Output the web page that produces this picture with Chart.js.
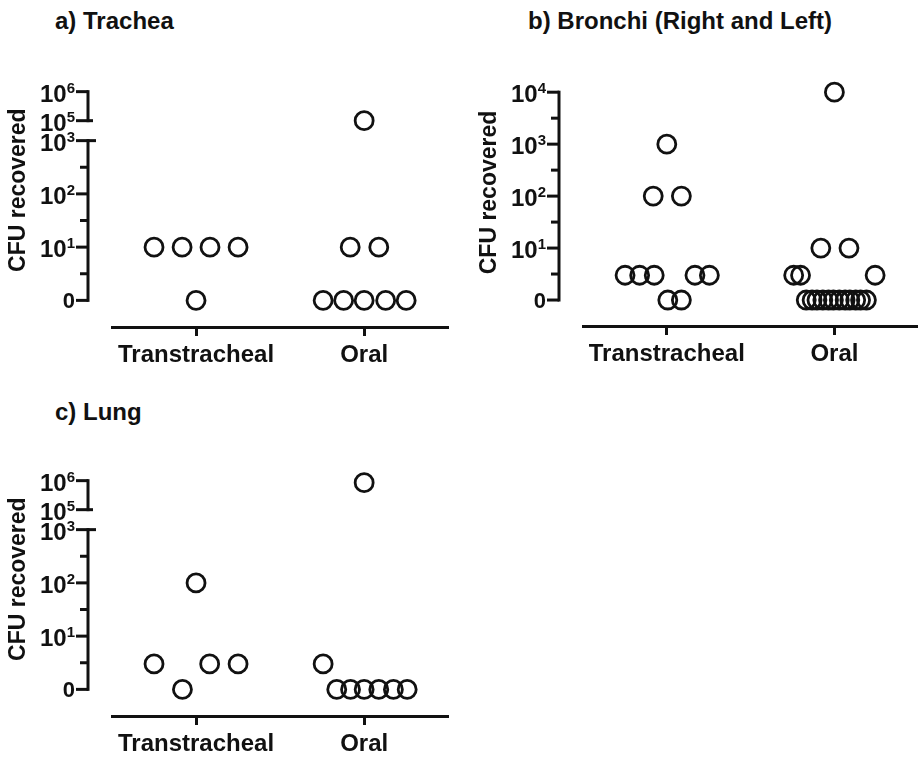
<!DOCTYPE html>
<html>
<head>
<meta charset="utf-8">
<script src="https://cdn.jsdelivr.net/npm/chart.js@4.4.1/dist/chart.umd.min.js"></script>
<style>
html, body { margin: 0; padding: 0; background: #fff; overflow: hidden; width: 918px; height: 759px; }
.panel { position: absolute; }
.ttl { position: absolute; font: bold 24px "Liberation Sans", Arial, sans-serif; line-height: 24px; color: #111; white-space: nowrap; }
</style>
</head>
<body>
<div class="ttl" style="left:55px;top:9px">a) Trachea</div>
<div class="ttl" style="left:528px;top:9px">b) Bronchi (Right and Left)</div>
<div class="ttl" style="left:55px;top:400px">c) Lung</div>
<div class="panel" style="left:0;top:0;width:460px;height:380px"><canvas id="trachea"></canvas></div>
<div class="panel" style="left:460px;top:0;width:470px;height:380px"><canvas id="bronchi"></canvas></div>
<div class="panel" style="left:0;top:389px;width:460px;height:372px"><canvas id="lung"></canvas></div>
<script>
const groups = ['Transtracheal', 'Oral']

// CFU recovered per animal (0 = nothing recovered)
const tracheaTrans = [10, 10, 10, 10, 0]
const tracheaOral = [100000, 10, 10, 0, 0, 0, 0, 0]
const bronchiTrans = [1000, 100, 100, 3, 3, 3, 3, 3, 0, 0]
const bronchiOral = [10000, 10, 10, 3, 3, 3, 0, 0, 0, 0, 0, 0, 0, 0, 0, 0, 0, 0]
const lungTrans = [3, 0, 100, 3, 3]
const lungOral = [850000, 3, 0, 0, 0, 0, 0, 0]

// sideways scatter of each point around its column (in column units)
const tracheaTransJit = [-0.25, -0.083, 0.083, 0.25, 0]
const tracheaOralJit = [0, -0.083, 0.087, -0.244, -0.122, 0, 0.128, 0.25]
const bronchiTransJit = [0, -0.081, 0.087, -0.249, -0.162, -0.075, 0.168, 0.254, 0.006, 0.087]
const bronchiOralJit = [0, -0.081, 0.087, -0.243, -0.202, 0.243,
  -0.168, -0.133, -0.104, -0.069, -0.035, -0.006, 0.029, 0.064, 0.092, 0.127, 0.156, 0.191]
const lungTransJit = [-0.25, -0.081, 0, 0.081, 0.25]
const lungOralJit = [0, -0.244, -0.163, -0.081, 0, 0.087, 0.174, 0.256]

// y tick labels as powers of ten, "0" sits where 10^0 would be
const brokenTicks = [0, 1, 2, 3, 5, 6]
const brokenMinor = [0.5, 1.5, 2.5]
const bronchiTicks = [0, 1, 2, 3, 4]
const bronchiMinor = [0.5, 1.5, 2.5, 3.5]

const INK = '#111'
const FONT = '"Liberation Sans", Arial, sans-serif'

// log axis; trachea and lung have a cut between 10^3 and 10^5
const GAP = 0.375, UPPER = 0.545
function toAxis(exp, broken) {
  if (!broken || exp <= 3) return exp
  return 3 + GAP + (exp - 5) * UPPER
}
const expOf = v => v <= 1 ? 0 : Math.log10(v)

function points(vals, jit, col, broken) {
  return vals.map((v, i) => ({ x: col + jit[i], y: toAxis(expOf(v), broken) }))
}

const logAxis = {
  id: 'logAxis',
  afterDraw(chart, args, o) {
    const { ctx, chartArea, scales: { y } } = chart
    const ax = chartArea.left - 24
    const py = e => y.getPixelForValue(toAxis(e, o.broken))
    ctx.save()
    ctx.strokeStyle = INK
    ctx.fillStyle = INK
    ctx.lineWidth = 3
    ctx.lineCap = 'square'
    const segs = o.broken ? [[0, 3], [5, 6]] : [[0, 4]]
    segs.forEach(([a, b]) => {
      ctx.beginPath()
      ctx.moveTo(ax, py(a))
      ctx.lineTo(ax, py(b))
      ctx.stroke()
    })
    ctx.lineCap = 'butt'
    o.ticks.forEach(e => {
      const p = py(e)
      let right = ax
      if (o.broken && e === 3) right = ax + 8
      if (o.broken && e === 5) right = ax + 5
      ctx.beginPath()
      ctx.moveTo(ax - 12, p)
      ctx.lineTo(right, p)
      ctx.stroke()
      const lx = ax - 13
      ctx.textAlign = 'right'
      ctx.textBaseline = 'alphabetic'
      if (e === 0) {
        ctx.font = 'bold 22px ' + FONT
        ctx.fillText('0', lx, p + 8)
      } else {
        ctx.font = 'bold 15px ' + FONT
        const sup = String(e)
        const w = ctx.measureText(sup).width
        ctx.fillText(sup, lx, p + 1)
        ctx.font = 'bold 24px ' + FONT
        ctx.fillText('10', lx - w, p + 10)
      }
    })
    o.minor.forEach(e => {
      const p = py(e)
      ctx.beginPath()
      ctx.moveTo(ax - 8, p)
      ctx.lineTo(ax, p)
      ctx.stroke()
    })
    // axis title
    ctx.translate(ax - 69.5, y.getPixelForValue(2.07))
    ctx.rotate(-Math.PI / 2)
    ctx.textAlign = 'center'
    ctx.textBaseline = 'middle'
    ctx.font = 'bold 23px ' + FONT
    ctx.fillText('CFU recovered', 0, 0)
    ctx.restore()
  }
}

function makeChart(id, trans, transJit, oral, oralJit, broken, pad, ymax) {
  const ds = (data) => ({
    data,
    pointRadius: 9,
    pointHoverRadius: 9,
    borderWidth: 2.8,
    borderColor: INK,
    backgroundColor: 'rgba(0,0,0,0)',
    showLine: false,
    clip: false
  })
  return new Chart(document.getElementById(id), {
    type: 'scatter',
    data: {
      datasets: [
        ds(points(trans, transJit, 0, broken)),
        ds(points(oral, oralJit, 1, broken))
      ]
    },
    plugins: [logAxis],
    options: {
      responsive: true,
      maintainAspectRatio: false,
      animation: false,
      layout: { padding: pad },
      plugins: {
        legend: { display: false },
        tooltip: { enabled: false },
        logAxis: {
          broken,
          ticks: broken ? brokenTicks : bronchiTicks,
          minor: broken ? brokenMinor : bronchiMinor
        }
      },
      scales: {
        y: { type: 'linear', display: false, min: -0.5, max: ymax },
        x: {
          type: 'linear',
          min: -0.5,
          max: 1.5,
          afterBuildTicks: s => { s.ticks = [{ value: 0 }, { value: 1 }] },
          afterFit: s => { s.height = 44 },
          border: { display: true, width: 3, color: INK },
          grid: { drawOnChartArea: false, tickLength: 9, tickWidth: 3, tickColor: INK, color: INK },
          ticks: {
            autoSkip: false,
            maxRotation: 0,
            padding: 5,
            color: INK,
            font: { family: FONT, size: 24, weight: 'bold' },
            callback: v => groups[v]
          }
        }
      }
    }
  })
}

makeChart('trachea', tracheaTrans, tracheaTransJit, tracheaOral, tracheaOralJit, true,
  { left: 112, right: 5, top: 81, bottom: 9 }, 4.12)
makeChart('bronchi', bronchiTrans, bronchiTransJit, bronchiOral, bronchiOralJit, false,
  { left: 123, right: 2, top: 87, bottom: 10 }, 4.1)
makeChart('lung', lungTrans, lungTransJit, lungOral, lungOralJit, true,
  { left: 112, right: 5, top: 81, bottom: 1 }, 4.12)
</script>
</body>
</html>
